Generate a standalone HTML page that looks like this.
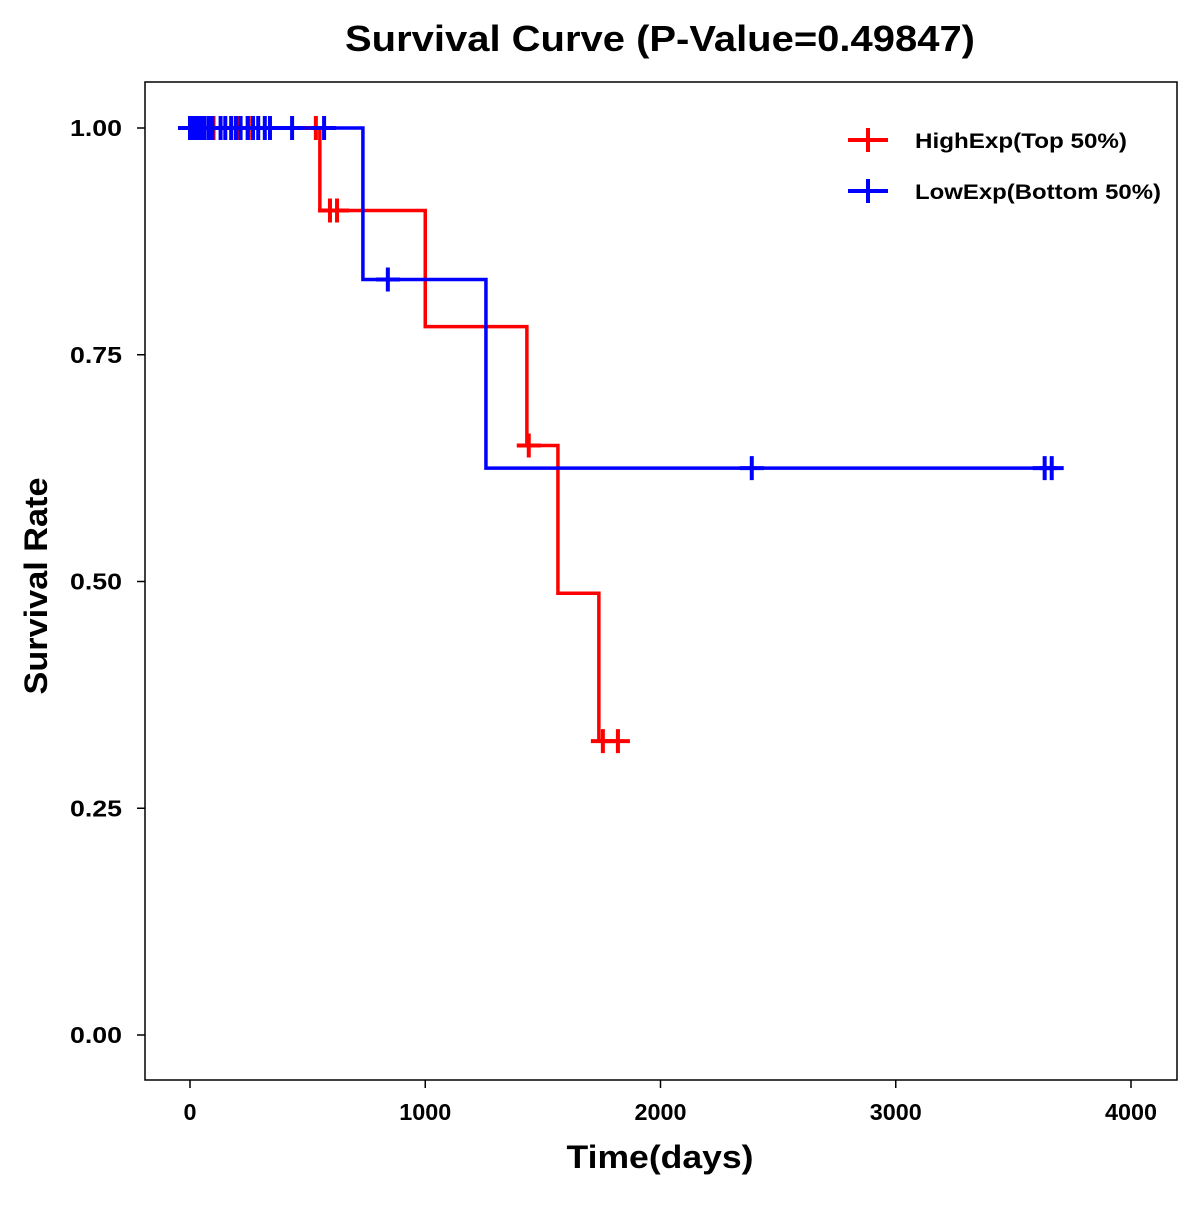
<!DOCTYPE html>
<html><head><meta charset="utf-8"><style>
body{margin:0;background:#fff}
svg text{font-family:"Liberation Sans",Arial,sans-serif;font-weight:bold}
</style></head><body>
<svg id="chart" width="1200" height="1200" xmlns="http://www.w3.org/2000/svg">
<rect width="1200" height="1200" fill="#fff"/>
<text x="660" y="51" font-size="36" text-anchor="middle" textLength="630" lengthAdjust="spacingAndGlyphs">Survival Curve (P-Value=0.49847)</text>
<rect x="145" y="82" width="1032" height="998" fill="none" stroke="#000" stroke-width="1.5"/>
<g id="axes"></g>
<g id="series"></g>
<text x="660" y="1168" font-size="32" text-anchor="middle" textLength="187" lengthAdjust="spacingAndGlyphs">Time(days)</text>
<text transform="translate(47,586) rotate(-90)" font-size="32" text-anchor="middle" textLength="217" lengthAdjust="spacingAndGlyphs">Survival Rate</text>
<g>
<g>
<line x1="848" y1="140" x2="888" y2="140" stroke="#f00" stroke-width="4"/><line x1="868" y1="128" x2="868" y2="152" stroke="#f00" stroke-width="4"/>
<text x="915" y="148" font-size="21" textLength="212" lengthAdjust="spacingAndGlyphs">HighExp(Top 50%)</text></g>
<g>
<line x1="848" y1="191" x2="888" y2="191" stroke="#00f" stroke-width="4"/><line x1="868" y1="179" x2="868" y2="203" stroke="#00f" stroke-width="4"/>
<text x="915" y="199" font-size="21" textLength="246" lengthAdjust="spacingAndGlyphs">LowExp(Bottom 50%)</text></g>
</g>
</svg>
<script>
const xTicks=[0,1000,2000,3000,4000];
const yTicks=[0,0.25,0.5,0.75,1];
const yTickLabels=["0.00","0.25","0.50","0.75","1.00"];
const highSteps=[[0,1],[552,0.909],[1000,0.781],[1432,0.650],[1564,0.487],[1738,0.324]];
const highEnd=1819;
const highCensor=[[100,1],[200,1],[250,1],[535,1],[595,0.909],[625,0.909],[1440,0.650],[1755,0.324],[1819,0.324]];
const lowSteps=[[0,1],[735,0.833],[1258,0.625]];
const lowEnd=3663;
const lowCensor=[[0,1],[5,1],[12,1],[22,1],[35,1],[48,1],[62,1],[80,1],[95,1],[130,1],[150,1],[175,1],[195,1],[215,1],[245,1],[268,1],[290,1],[318,1],[340,1],[434,1],[570,1],[841,0.833],[2388,0.625],[3633,0.625],[3663,0.625]];
const X=t=>190+t*0.23525, Y=s=>1035-s*907;
const NS="http://www.w3.org/2000/svg";
function mk(tag,attrs,parent){const e=document.createElementNS(NS,tag);for(const k in attrs)e.setAttribute(k,attrs[k]);parent.appendChild(e);return e;}
const ax=document.getElementById('axes'), sg=document.getElementById('series');
xTicks.forEach(t=>{
 const l=mk('line',{x1:X(t),x2:X(t),y1:1080,y2:1088,stroke:'#000','stroke-width':1.5},ax);
 
 
 const s=String(t);
 const tx=mk('text',{x:X(t),y:1120,'font-size':23,'text-anchor':'middle',textLength:s.length*13,lengthAdjust:'spacingAndGlyphs'},ax);tx.textContent=s;
 
 
});
yTicks.forEach((v,i)=>{
 const l=mk('line',{x1:137,x2:145,y1:Y(v),y2:Y(v),stroke:'#000','stroke-width':1.5},ax);
 
 
 const tx=mk('text',{x:122,y:Y(v)+8,'font-size':23,'text-anchor':'end',textLength:52,lengthAdjust:'spacingAndGlyphs'},ax);tx.textContent=yTickLabels[i];
 
 
});
function draw(steps,end,cens,col,name){
 let d='M'+X(steps[0][0])+','+Y(steps[0][1]);
 for(let i=1;i<steps.length;i++){d+=' H'+X(steps[i][0])+' V'+Y(steps[i][1]);}
 d+=' H'+X(end);
 const p=mk('path',{d:d,fill:'none',stroke:col,'stroke-width':3.5},sg);
 
 
 cens.forEach(c=>{
  const g=mk('path',{d:`M${X(c[0])-12},${Y(c[1])} h24 M${X(c[0])},${Y(c[1])-12} v24`,stroke:col,'stroke-width':4,fill:'none'},sg);
  
  
 });
}
draw(highSteps,highEnd,highCensor,'#ff0000','high-exp');
draw(lowSteps,lowEnd,lowCensor,'#0000ff','low-exp');
</script>
</body></html>
